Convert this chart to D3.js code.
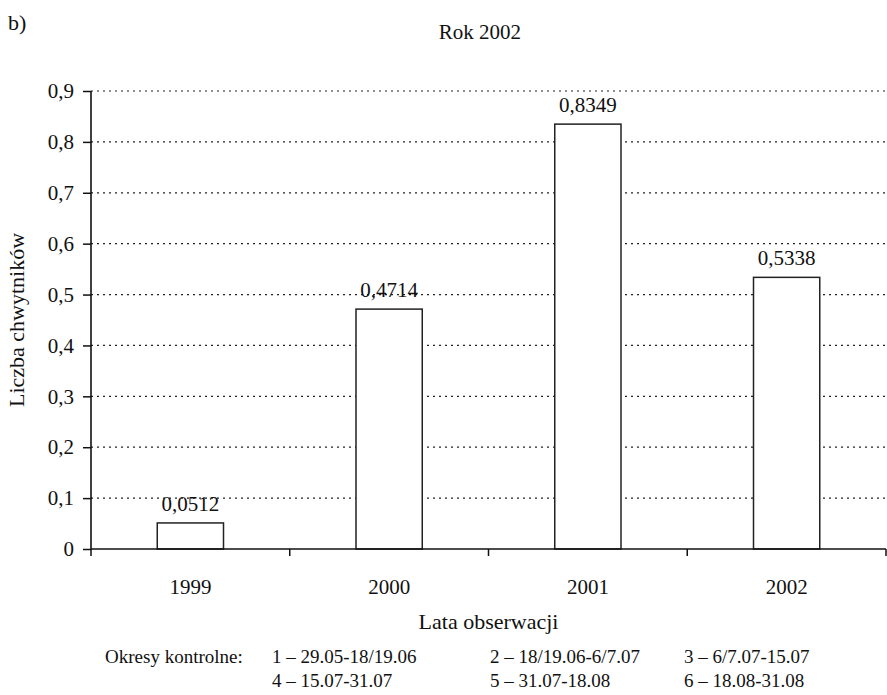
<!DOCTYPE html>
<html><head><meta charset="utf-8">
<script src="https://cdn.jsdelivr.net/npm/d3@7"></script>
<style>
body{margin:0;background:#fff;}
svg, svg text{font-family:"Liberation Serif","Times New Roman",Times,"DejaVu Serif",serif !important;fill:#111;}
</style></head>
<body><svg id="c" width="887" height="695"></svg>
<script>
const categories = ["1999","2000","2001","2002"];
const values = [0.0512, 0.4714, 0.8349, 0.5338];
const valueLabels = ["0,0512","0,4714","0,8349","0,5338"];
const yTicks = [0,0.1,0.2,0.3,0.4,0.5,0.6,0.7,0.8,0.9];
const yTickLabels = ["0","0,1","0,2","0,3","0,4","0,5","0,6","0,7","0,8","0,9"];
const legendRow1 = ["1 – 29.05-18/19.06","2 – 18/19.06-6/7.07","3 – 6/7.07-15.07"];
const legendRow2 = ["4 – 15.07-31.07","5 – 31.07-18.08","6 – 18.08-31.08"];

const FONT = '"Liberation Serif","Times New Roman",Times,"DejaVu Serif",serif';
const svg = d3.select("#c").attr("font-family", FONT);
const L=91, R=886, T=91, B=549;
const x = d3.scaleBand().domain(categories).range([L,R]).paddingInner(0).paddingOuter(0);
const y = d3.scaleLinear().domain([0,0.9]).range([B,T]);

// grid
svg.append("g").selectAll("line").data(yTicks.filter(d=>d>0)).join("line")
  .attr("x1",L).attr("x2",R).attr("y1",d=>y(d)).attr("y2",d=>y(d))
  .attr("stroke","#222").attr("stroke-width",1.2).attr("stroke-dasharray","2,4");

// bars
const bw = x.bandwidth()/3;
svg.append("g").selectAll("rect").data(values).join("rect")
  .attr("x",(d,i)=>x(categories[i])+x.bandwidth()/2-bw/2)
  .attr("y",d=>y(d)).attr("width",bw).attr("height",d=>B-y(d))
  .attr("fill","#fff").attr("stroke","#222").attr("stroke-width",1.5);

svg.append("g").selectAll("text").data(values).join("text")
  .attr("x",(d,i)=>x(categories[i])+x.bandwidth()/2)
  .attr("y",d=>y(d)-12).attr("text-anchor","middle").attr("font-size",21)
  .text((d,i)=>valueLabels[i]);

// y axis
const yAxis = d3.axisLeft(y).tickValues(yTicks).tickFormat((d,i)=>yTickLabels[i]).tickSize(8).tickPadding(9);
const gy = svg.append("g").attr("transform",`translate(${L},0)`).call(yAxis).attr("font-family",FONT).attr("font-size",21);
gy.select(".domain").attr("d",`M0,${T}V${B}`).attr("stroke","#111").attr("stroke-width",1.6);
gy.selectAll(".tick line").attr("stroke","#111").attr("stroke-width",1.5);
gy.selectAll(".tick text").attr("fill","#111");

// x axis
const xAxis = d3.axisBottom(x).tickSize(0).tickPadding(30);
const gx = svg.append("g").attr("transform",`translate(0,${B})`).call(xAxis).attr("font-family",FONT).attr("font-size",21);
gx.select(".domain").attr("d",`M${L},0H${R}`).attr("stroke","#111").attr("stroke-width",1.6);
gx.selectAll(".tick text").attr("fill","#111");
const bounds = categories.map(c=>x(c)).concat([R]);
gx.append("g").selectAll("line").data(bounds).join("line")
  .attr("x1",d=>d).attr("x2",d=>d).attr("y1",0).attr("y2",7)
  .attr("stroke","#111").attr("stroke-width",1.5);

// titles
svg.append("text").attr("x",8).attr("y",30).attr("font-size",22).text("b)");
svg.append("text").attr("x",480).attr("y",39).attr("text-anchor","middle").attr("font-size",21).text("Rok 2002");
svg.append("text").attr("transform",`translate(24,${(T+B)/2}) rotate(-90)`).attr("text-anchor","middle").attr("font-size",22).text("Liczba chwytników");
svg.append("text").attr("x",(L+R)/2).attr("y",629).attr("text-anchor","middle").attr("font-size",22).text("Lata obserwacji");

// legend
svg.append("text").attr("x",105).attr("y",663).attr("font-size",19).text("Okresy kontrolne:");
const colX=[272,490,684];
legendRow1.forEach((t,i)=>svg.append("text").attr("x",colX[i]).attr("y",663).attr("font-size",19).text(t));
legendRow2.forEach((t,i)=>svg.append("text").attr("x",colX[i]).attr("y",687).attr("font-size",19).text(t));
</script></body></html>
